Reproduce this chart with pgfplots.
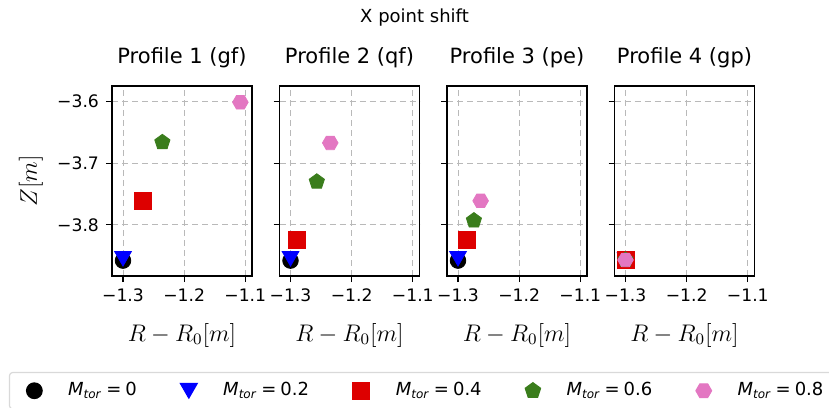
\documentclass[border=0pt]{standalone}
\usepackage{fontspec}
\setmainfont{DejaVu Sans}
\usepackage{pgfplots}
\pgfplotsset{compat=1.18}
\usetikzlibrary{plotmarks}
\definecolor{mred}{HTML}{DD0000}
\definecolor{mgreen}{HTML}{3A7D1C}
\definecolor{mpink}{HTML}{E377C2}
\definecolor{mblue}{HTML}{0000FF}
\pgfdeclareplotmark{hexH*}{%
  \pgfpathmoveto{\pgfpointpolar{0}{\pgfplotmarksize}}%
  \pgfpathlineto{\pgfpointpolar{60}{\pgfplotmarksize}}%
  \pgfpathlineto{\pgfpointpolar{120}{\pgfplotmarksize}}%
  \pgfpathlineto{\pgfpointpolar{180}{\pgfplotmarksize}}%
  \pgfpathlineto{\pgfpointpolar{240}{\pgfplotmarksize}}%
  \pgfpathlineto{\pgfpointpolar{300}{\pgfplotmarksize}}%
  \pgfpathclose\pgfusepathqfillstroke}
\pgfdeclareplotmark{tridown*}{%
  \pgfpathmoveto{\pgfpoint{0pt}{-0.87\pgfplotmarksize}}%
  \pgfpathlineto{\pgfpoint{-\pgfplotmarksize}{0.87\pgfplotmarksize}}%
  \pgfpathlineto{\pgfpoint{\pgfplotmarksize}{0.87\pgfplotmarksize}}%
  \pgfpathclose\pgfusepathqfillstroke}
\newcommand{\mtor}[1]{\textit{M}\textsubscript{\textit{tor}}\kern2pt=\kern2pt#1}
\pgfplotsset{
  panel/.style={
    scale only axis, width=70pt, height=95pt,
    anchor=south west,
    xmin=-1.318, xmax=-1.089, ymin=-3.883, ymax=-3.5746,
    xtick={-1.3,-1.2,-1.1}, xticklabels={−1.3,−1.2,−1.1},
    ytick={-3.8,-3.7,-3.6},
    tick pos=left, tick align=outside, major tick length=3pt,
    tick style={black, line width=0.6pt},
    axis line style={black, line width=0.7pt},
    grid=major, grid style={densely dashed, gray!55, line width=0.4pt},
    ticklabel style={font=\fontsize{8.6}{10}\selectfont},
    title style={at={(0.5,1)}, anchor=base, yshift=5pt, font=\fontsize{10.5}{12}\selectfont},
    xlabel={$R-R_0[m]$},
    xlabel style={at={(axis description cs:0.5,0)}, anchor=center, yshift=-29.5pt, font=\fontsize{11.5}{13}\selectfont},
    clip=false,
    only marks,
  },
  s0/.style={only marks, mark=*, mark size=3.9pt, draw=black, fill=black},
  s1/.style={only marks, mark=tridown*, mark size=4.2pt, draw=mblue, fill=mblue},
  s2/.style={only marks, mark=square*, mark size=4.3pt, draw=mred, fill=mred},
  s3/.style={only marks, mark=pentagon*, mark size=4pt, draw=mgreen, fill=mgreen},
  s4/.style={only marks, mark=hexH*, mark size=3.9pt, draw=mpink, fill=mpink},
}
\begin{document}
\begin{tikzpicture}
\useasboundingbox (0,0) rectangle (414.5pt,203.5pt);
\node[font=\fontsize{9}{11}\selectfont] at (207.25pt,194.5pt) {X point shift};
% Panel 1
\begin{axis}[panel, at={(56pt,65.5pt)}, title={Profile 1 (gf)},
  yticklabels={−3.8,−3.7,−3.6},
  ylabel={$Z[m]$},
  ylabel style={at={(axis description cs:-0.58,0.5)}, anchor=center, font=\fontsize{11.5}{13}\selectfont},
  legend columns=5,
  legend image code/.code={%
    \draw[#1] plot coordinates {(0pt,0pt)};},
  legend style={at={(axis description cs:-0.736,-0.505)}, anchor=north west,
    draw=gray!30, line width=0.6pt, rounded corners=1.5pt,
    inner xsep=8.5pt, inner ysep=3pt,
    font=\fontsize{9}{11}\selectfont,
    nodes={inner xsep=0pt, inner ysep=2pt, anchor=west},
    /tikz/every odd column/.append style={column sep=13pt},
    /tikz/every even column/.append style={column sep=21.8pt}},
]
\addplot[s0] coordinates {(-1.3,-3.858)};
\addlegendentry{\mtor{0}}
\addplot[s1] coordinates {(-1.3,-3.855)};
\addlegendentry{\mtor{0.2}}
\addplot[s2] coordinates {(-1.268,-3.761)};
\addlegendentry{\mtor{0.4}}
\addplot[s3] coordinates {(-1.2356,-3.666)};
\addlegendentry{\mtor{0.6}}
\addplot[s4] coordinates {(-1.108,-3.601)};
\addlegendentry{\mtor{0.8}}
\end{axis}
% Panel 2
\begin{axis}[panel, at={(139.75pt,65.5pt)}, title={Profile 2 (qf)}, yticklabels={}]
\addplot[s0] coordinates {(-1.3,-3.858)};
\addplot[s1] coordinates {(-1.3,-3.855)};
\addplot[s2] coordinates {(-1.289,-3.825)};
\addplot[s3] coordinates {(-1.257,-3.730)};
\addplot[s4] coordinates {(-1.235,-3.667)};
\end{axis}
% Panel 3
\begin{axis}[panel, at={(223.5pt,65.5pt)}, title={Profile 3 (pe)}, yticklabels={}]
\addplot[s0] coordinates {(-1.3,-3.858)};
\addplot[s1] coordinates {(-1.3,-3.855)};
\addplot[s2] coordinates {(-1.285,-3.825)};
\addplot[s3] coordinates {(-1.274,-3.793)};
\addplot[s4] coordinates {(-1.263,-3.761)};
\end{axis}
% Panel 4
\begin{axis}[panel, at={(307.25pt,65.5pt)}, title={Profile 4 (gp)}, yticklabels={}]
\addplot[s0] coordinates {(-1.3,-3.857)};
\addplot[s1] coordinates {(-1.3,-3.857)};
\addplot[s2] coordinates {(-1.3,-3.857)};
\addplot[s3] coordinates {(-1.3,-3.857)};
\addplot[s4] coordinates {(-1.3,-3.857)};
\end{axis}
\end{tikzpicture}
\end{document}
